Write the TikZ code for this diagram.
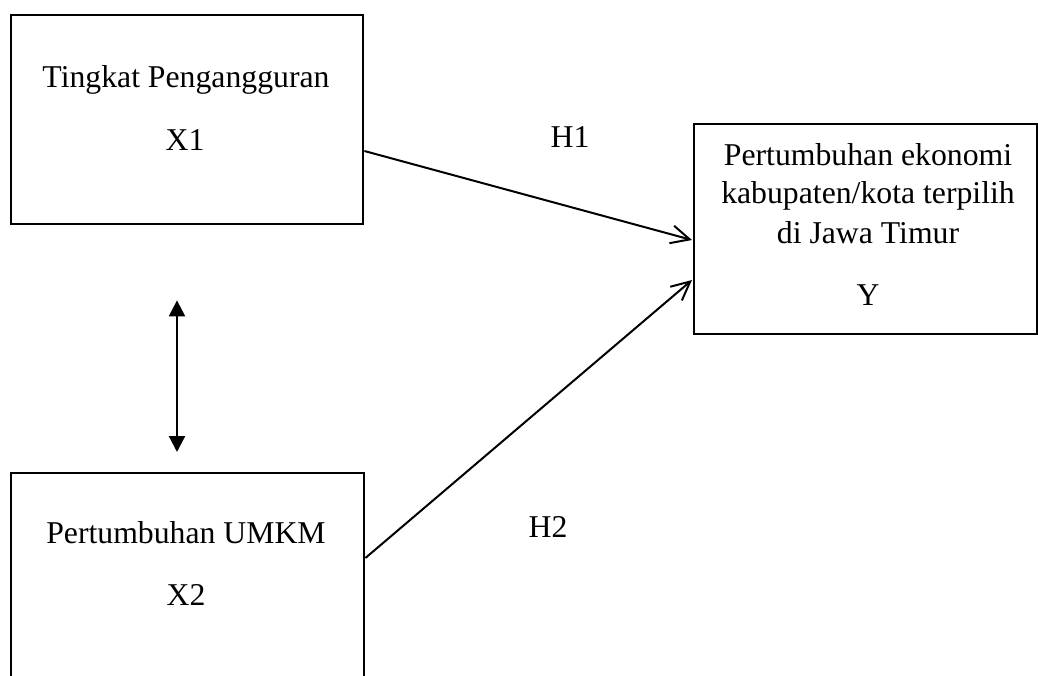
\documentclass[tikz,border=0pt]{standalone}
\usepackage{fontspec}
\setmainfont{Liberation Serif}
\usetikzlibrary{arrows.meta,calc}
\begin{document}
\begin{tikzpicture}[x=0.75pt,y=-0.75pt,
 box/.style={draw, line width=1.8pt, inner sep=0, anchor=north west},
 lbl/.style={inner sep=0, anchor=base, font=\fontsize{23.8}{29}\selectfont},
 arr/.style={line width=1.5pt, -{Straight Barb[length=14pt,width=13.5pt,line width=1.5pt]}},
 dbl/.style={line width=1.7pt, {Triangle[length=12pt,width=12pt]}-{Triangle[length=12pt,width=12pt]}}]
\useasboundingbox (0,0) rectangle (1038,675);
\clip (0,0) rectangle (1038,675);
% boxes
\node[box, minimum width=264pt, minimum height=156.75pt] (x1) at (10,14) {};
\node[box, minimum width=257.25pt, minimum height=157.5pt] (y) at (693,123) {};
\node[box, minimum width=264.75pt, minimum height=172.5pt] (x2) at (10,472) {};
% texts
\node[lbl] (t1) at (186,87) {Tingkat Pengangguran};
\node[lbl] (t1b) at (185,150) {X1};
\node[lbl] (t2) at (186,543) {Pertumbuhan UMKM};
\node[lbl] (t2b) at (186,605) {X2};
\node[lbl] (ty1) at (868,165) {Pertumbuhan ekonomi};
\node[lbl] (ty2) at (868,203) {kabupaten/kota terpilih};
\node[lbl] (ty3) at (868,243) {di Jawa Timur};
\node[lbl] (ty4) at (868,305) {Y};
\node[lbl] (h1) at (570,147) {H1};
\node[lbl] (h2) at (548,537) {H2};
% connectors
\draw[arr] ($(x1.north east)+(0,137)$) -- ($(y.north west)+(-1,117)$);
\draw[arr] ($(x2.north east)+(0,86)$) -- ($(y.north west)+(-1,157)$);
\draw[dbl] ($(x1.south west)+(167,75)$) -- ($(x2.north west)+(167,-20)$);
\end{tikzpicture}
\end{document}
